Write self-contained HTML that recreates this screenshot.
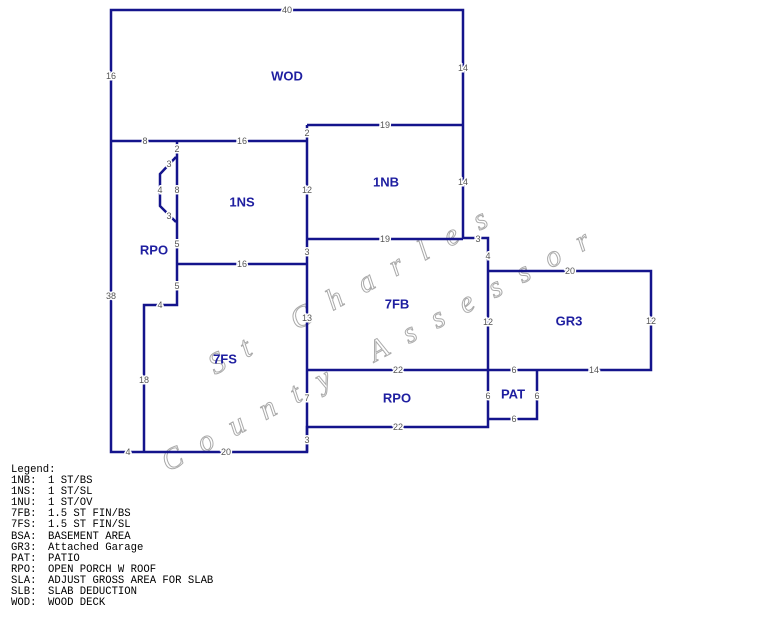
<!DOCTYPE html>
<html><head><meta charset="utf-8"><style>
html,body{margin:0;padding:0;background:#fff;width:762px;height:624px;overflow:hidden}
svg{position:absolute;left:0;top:0}
.l{stroke:#14148c;stroke-width:2.5;fill:none}
.d{font-family:"Liberation Sans",sans-serif;font-size:9px;fill:#555;text-anchor:middle;dominant-baseline:central}
.a{font-family:"Liberation Sans",sans-serif;font-size:13px;font-weight:bold;fill:#1e1ea0;text-anchor:middle;dominant-baseline:central}
.g{font-family:"Liberation Mono",monospace;font-size:10.6px;fill:#000}
</style></head><body>
<svg width="762" height="624" viewBox="0 0 762 624">
<g font-family="Liberation Serif,serif" font-size="30" fill="none" stroke="#aaa" stroke-width="1" font-style="italic">
<text x="215" y="375" transform="rotate(-28.6 215 375)" textLength="313" lengthAdjust="spacing">St Charles</text>
<text x="168" y="472" transform="rotate(-28 168 472)" textLength="480" lengthAdjust="spacing">County Assessor</text>
</g>
<g class="l">
<path d="M111 10H463V238H488V427H307V452H111Z"/>
<path d="M111 141H307"/>
<path d="M307 125H463"/>
<path d="M307 125V452"/>
<path d="M307 239H463"/>
<path d="M177 141V305H144V452"/>
<path d="M176 157L160 174V206L176 222"/>
<path d="M177 264H307"/>
<path d="M488 271H651V370H307"/>
<path d="M537 370V419H488"/>
</g>
<g class="d" style="paint-order:stroke;stroke:#fff;stroke-width:3">
<text x="287" y="10">40</text>
<text x="111" y="76">16</text>
<text x="463" y="68">14</text>
<text x="463" y="182">14</text>
<text x="111" y="296">38</text>
<text x="145" y="141">8</text>
<text x="242" y="141">16</text>
<text x="307" y="133">2</text>
<text x="385" y="125">19</text>
<text x="177" y="149">2</text>
<text x="169" y="164">3</text>
<text x="160" y="190">4</text>
<text x="177" y="190">8</text>
<text x="169" y="216">3</text>
<text x="177" y="244">5</text>
<text x="242" y="264">16</text>
<text x="177" y="286">5</text>
<text x="160" y="305">4</text>
<text x="144" y="380">18</text>
<text x="128" y="452">4</text>
<text x="226" y="452">20</text>
<text x="307" y="190">12</text>
<text x="307" y="252">3</text>
<text x="307" y="318">13</text>
<text x="307" y="398">7</text>
<text x="307" y="440">3</text>
<text x="385" y="239">19</text>
<text x="478" y="239">3</text>
<text x="488" y="256">4</text>
<text x="488" y="322">12</text>
<text x="570" y="271">20</text>
<text x="651" y="321">12</text>
<text x="398" y="370">22</text>
<text x="514" y="370">6</text>
<text x="594" y="370">14</text>
<text x="488" y="396">6</text>
<text x="537" y="396">6</text>
<text x="514" y="419">6</text>
<text x="398" y="427">22</text>
</g>
<g class="a">
<text x="287" y="76">WOD</text>
<text x="386" y="182">1NB</text>
<text x="242" y="202">1NS</text>
<text x="154" y="250">RPO</text>
<text x="397" y="304">7FB</text>
<text x="569" y="321">GR3</text>
<text x="225" y="359">7FS</text>
<text x="397" y="398">RPO</text>
<text x="513" y="394">PAT</text>
</g>
<g class="g">
<text x="11" y="472">Legend:</text>
<text x="11" y="483">1NB:</text><text x="48" y="483">1 ST/BS</text>
<text x="11" y="494">1NS:</text><text x="48" y="494">1 ST/SL</text>
<text x="11" y="505">1NU:</text><text x="48" y="505">1 ST/OV</text>
<text x="11" y="516">7FB:</text><text x="48" y="516">1.5 ST FIN/BS</text>
<text x="11" y="527">7FS:</text><text x="48" y="527">1.5 ST FIN/SL</text>
<text x="11" y="539">BSA:</text><text x="48" y="539">BASEMENT AREA</text>
<text x="11" y="550">GR3:</text><text x="48" y="550">Attached Garage</text>
<text x="11" y="561">PAT:</text><text x="48" y="561">PATIO</text>
<text x="11" y="572">RPO:</text><text x="48" y="572">OPEN PORCH W ROOF</text>
<text x="11" y="583">SLA:</text><text x="48" y="583">ADJUST GROSS AREA FOR SLAB</text>
<text x="11" y="594">SLB:</text><text x="48" y="594">SLAB DEDUCTION</text>
<text x="11" y="605">WOD:</text><text x="48" y="605">WOOD DECK</text>
</g>
</svg>
</body></html>
